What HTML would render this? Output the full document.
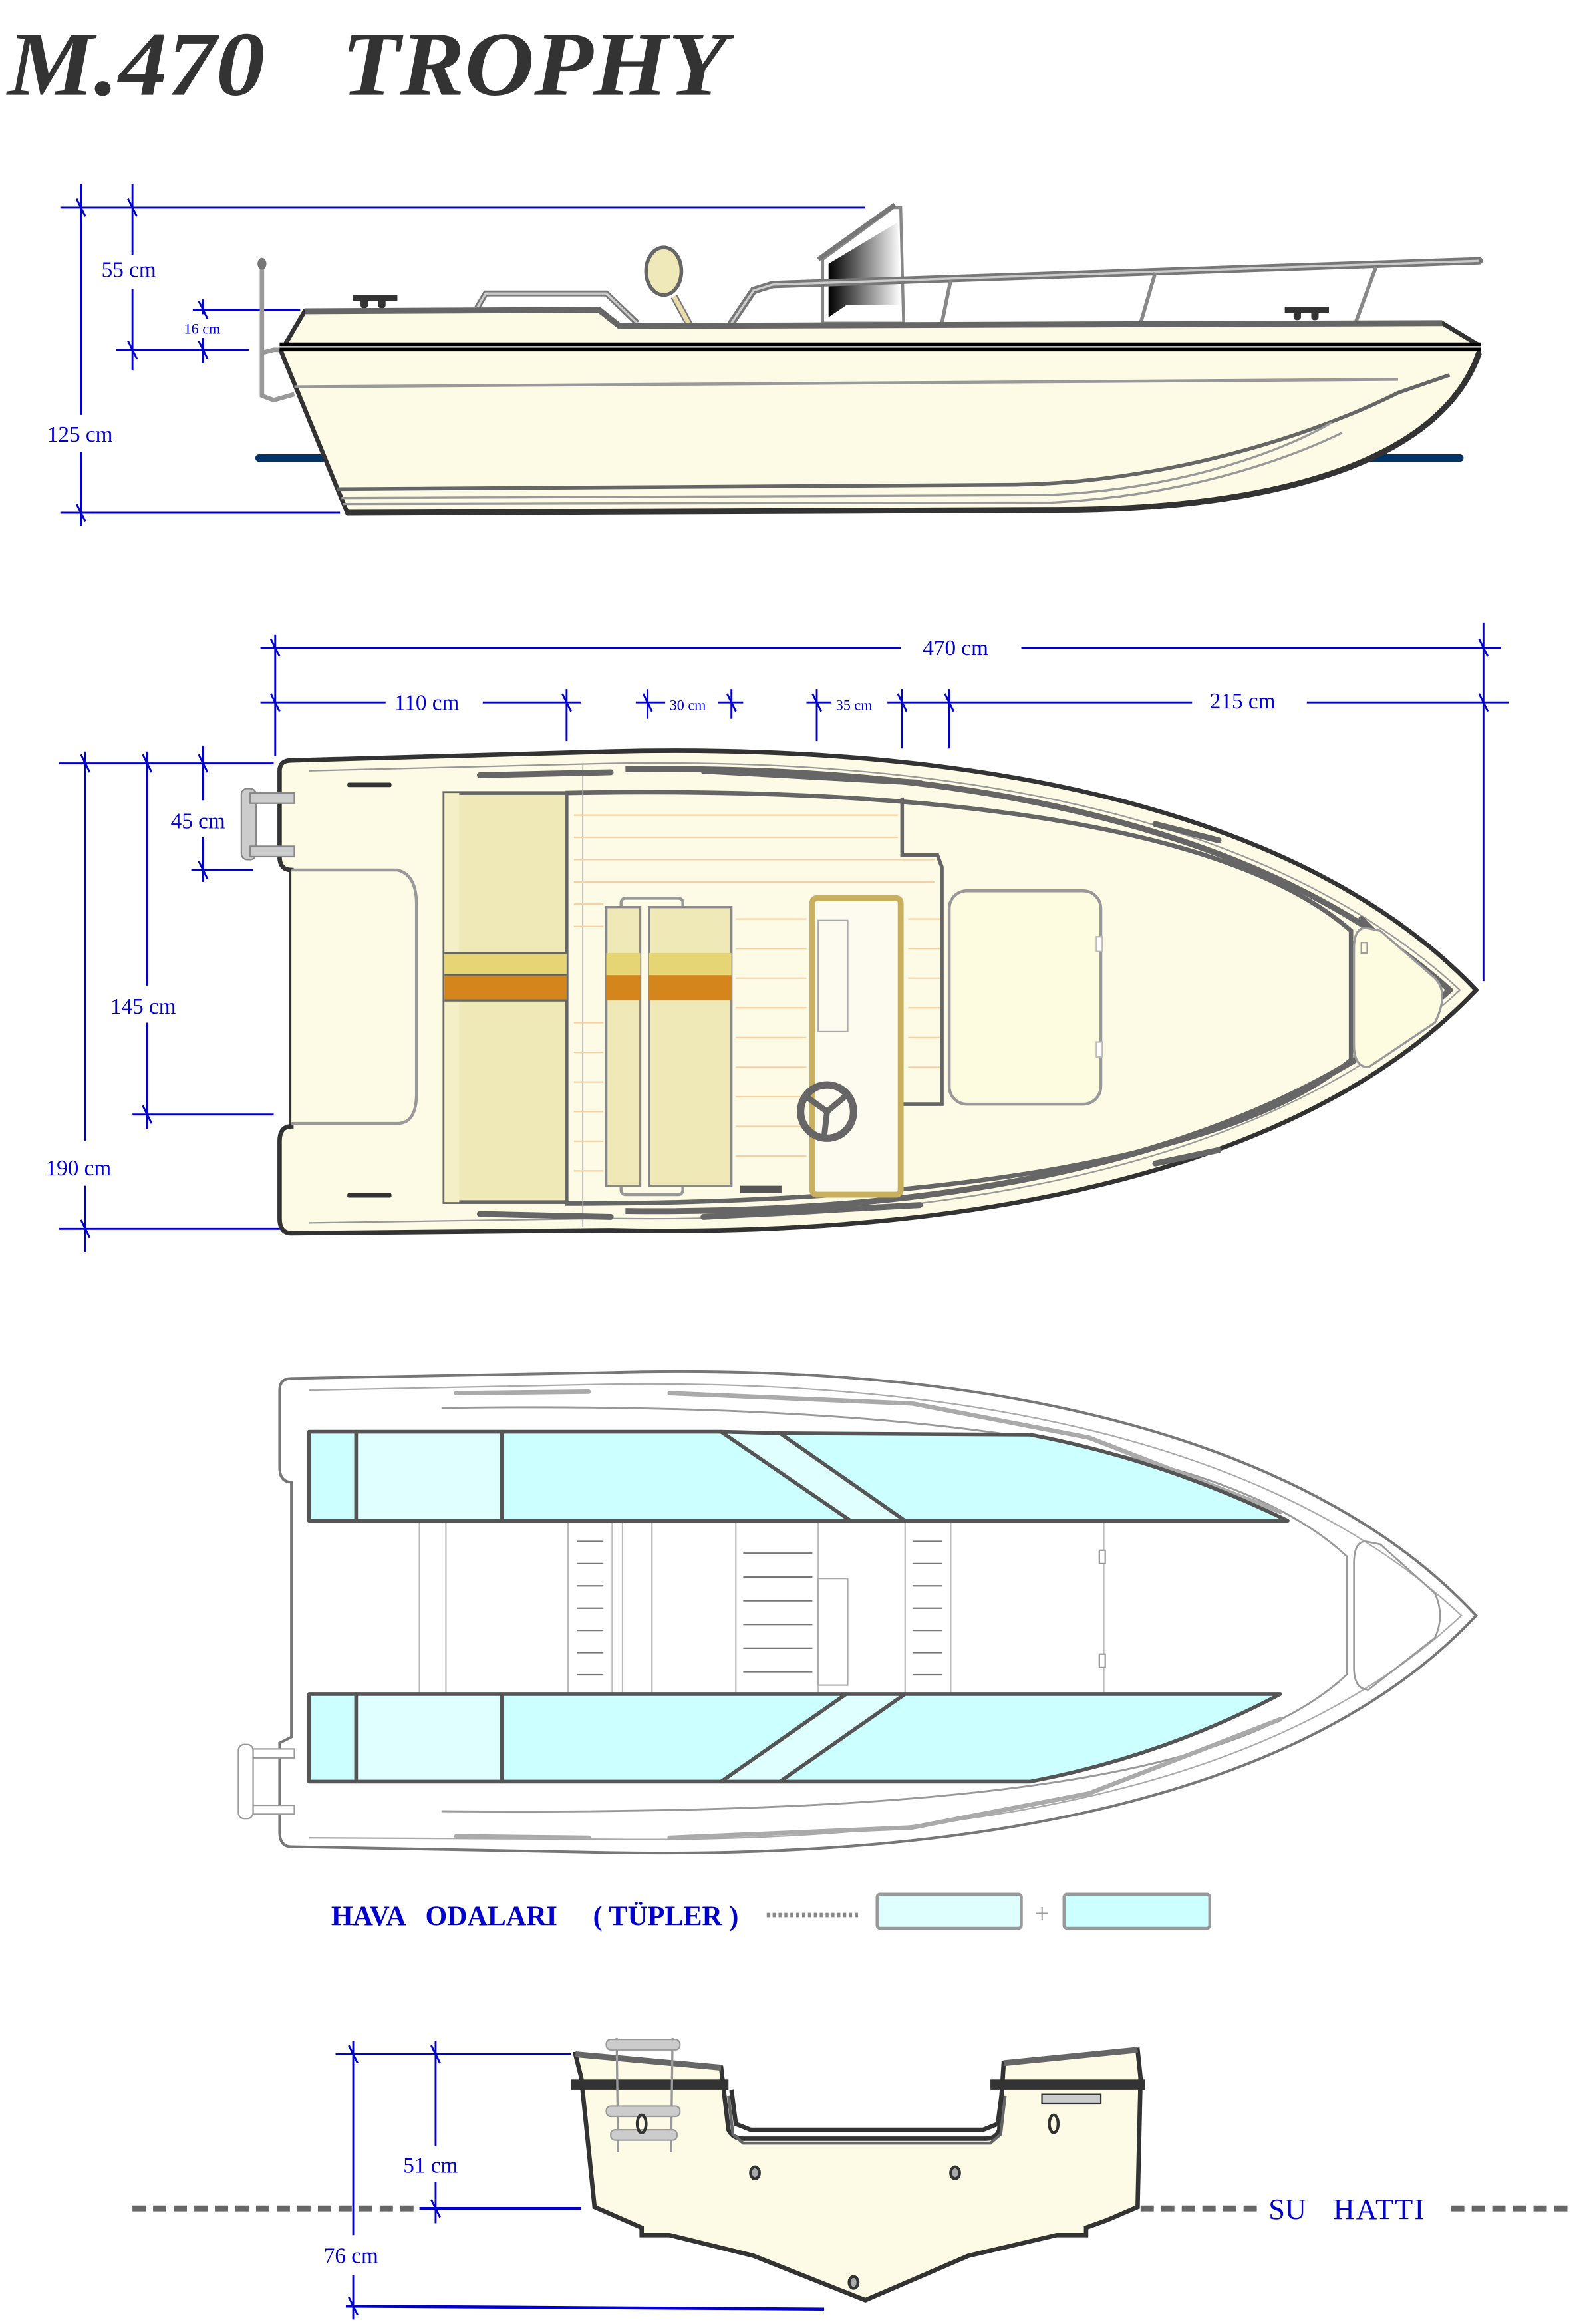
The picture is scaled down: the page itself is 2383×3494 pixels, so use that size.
<!DOCTYPE html>
<html><head><meta charset="utf-8"><style>html,body{margin:0;padding:0;background:#fff}svg{display:block}</style></head>
<body>
<svg xmlns="http://www.w3.org/2000/svg" width="2383" height="3494" viewBox="0 0 1077 1568" preserveAspectRatio="none">
<defs>
<linearGradient id="win" x1="0" x2="1"><stop offset="0" stop-color="#000"/><stop offset="1" stop-color="#fff"/></linearGradient>
</defs>
<g font-family="Liberation Serif, serif">
<!-- Title -->
<text x="5" y="64" font-size="62" font-weight="bold" font-style="italic" fill="#333" textLength="175" lengthAdjust="spacingAndGlyphs">M.470</text>
<text x="232" y="64" font-size="62" font-weight="bold" font-style="italic" fill="#333" textLength="262" lengthAdjust="spacingAndGlyphs">TROPHY</text>

<!-- ===== SIDE VIEW ===== -->
<g stroke="#0000cc" stroke-width="1.3" fill="none">
<line x1="41" y1="140" x2="588" y2="140"/>
<line x1="55" y1="124" x2="55" y2="280"/><line x1="55" y1="305" x2="55" y2="355"/>
<line x1="90" y1="124" x2="90" y2="172"/><line x1="90" y1="195" x2="90" y2="250"/>
<line x1="131" y1="209" x2="204" y2="209"/>
<line x1="79" y1="236" x2="169" y2="236"/>
<line x1="138" y1="202" x2="138" y2="212"/><line x1="138" y1="228" x2="138" y2="245"/>
<line x1="41" y1="346" x2="231" y2="346"/>
<line x1="52" y1="134" x2="58" y2="146"/><line x1="87" y1="134" x2="93" y2="146"/>
<line x1="87" y1="230" x2="93" y2="242"/><line x1="135" y1="203" x2="141" y2="215"/><line x1="135" y1="230" x2="141" y2="242"/>
<line x1="52" y1="340" x2="58" y2="352"/>
</g>
<g fill="#0000cc" font-size="15">
<text x="69" y="187">55 cm</text>
<text x="32" y="298">125 cm</text>
<text x="125" y="225" font-size="10">16 cm</text>
</g>
<line x1="176" y1="309" x2="992" y2="309" stroke="#003366" stroke-width="5" stroke-linecap="round"/>
<!-- outboard pole -->
<line x1="178" y1="178" x2="178" y2="268" stroke="#999" stroke-width="3"/>
<path d="M178 267 L186 270 L200 266" stroke="#999" stroke-width="3" fill="none"/>
<path d="M178 238 L186 236 L195 236" stroke="#999" stroke-width="3" fill="none"/>
<ellipse cx="178" cy="178" rx="3" ry="4" fill="#777"/>
<!-- stern handle -->
<path d="M324 208 L330 198 L412 198 L433 218" stroke="#777" stroke-width="4" fill="none"/>
<path d="M324 208 L330 198 L412 198 L433 218" stroke="#ccc" stroke-width="1.5" fill="none"/>
<!-- seat back -->
<line x1="458" y1="200" x2="470" y2="222" stroke="#777" stroke-width="5"/>
<line x1="458" y1="200" x2="470" y2="222" stroke="#e8dcaa" stroke-width="3"/>
<ellipse cx="451" cy="183" rx="12" ry="16" fill="#efe8b9" stroke="#666" stroke-width="2.5"/>
<!-- windshield -->
<path d="M559 218 L559 175 L607 140 L612 140 L614 218 Z" fill="#fff" stroke="#888" stroke-width="2"/>
<path d="M563 214 L563 178 L610 150 L612 206 L575 206 L563 214Z" fill="url(#win)"/>
<line x1="556" y1="175" x2="608" y2="138" stroke="#777" stroke-width="3"/>
<!-- rail -->
<path d="M497 218 L512 196 L525 192 L1005 176" stroke="#777" stroke-width="5" fill="none" stroke-linecap="round"/>
<path d="M497 218 L512 196 L525 192 L1005 176" stroke="#ccc" stroke-width="1.5" fill="none"/>
<g stroke="#888" stroke-width="2.5"><line x1="646" y1="189" x2="640" y2="218"/><line x1="785" y1="184" x2="775" y2="218"/><line x1="935" y1="180" x2="921" y2="218"/></g>
<!-- cleats -->
<g fill="#333"><rect x="240" y="199" width="30" height="4"/><rect x="245" y="201" width="5" height="7" rx="2"/><rect x="257" y="201" width="5" height="7" rx="2"/>
<rect x="873" y="207" width="30" height="4"/><rect x="879" y="209" width="5" height="7" rx="2"/><rect x="891" y="209" width="5" height="7" rx="2"/></g>
<!-- hull -->
<path d="M191 237 L207 210 L407 209 L421 220 L980 218 L1005 233 L1005 238 C980 310 870 344 718 344 L236 346 Z" fill="#fdfbe6" stroke="#333" stroke-width="3"/>
<path d="M207 210 L407 209 L421 220 L980 218" stroke="#666" stroke-width="4" fill="none"/>
<rect x="190" y="231" width="816" height="6" fill="#000"/>
<line x1="190" y1="234" x2="1006" y2="234" stroke="#fff" stroke-width="1"/>
<line x1="200" y1="261" x2="950" y2="256" stroke="#999" stroke-width="2"/>
<path d="M229 330 L690 327 C800 325 900 290 950 265 L985 253" stroke="#666" stroke-width="2.5" fill="none"/>
<path d="M232 336 L710 334 C810 330 880 300 905 285" stroke="#999" stroke-width="1.5" fill="none"/>
<path d="M233 340 L715 339 C815 334 885 305 912 292" stroke="#999" stroke-width="1.5" fill="none"/>
<path d="M236 346 L718 344 C870 344 980 310 1005 238" stroke="#333" stroke-width="4" fill="none"/>

<!-- ===== TOP VIEW ===== -->
<g stroke="#0000cc" stroke-width="1.3" fill="none">
<line x1="177" y1="437" x2="612" y2="437"/><line x1="694" y1="437" x2="1020" y2="437"/>
<line x1="177" y1="474" x2="262" y2="474"/><line x1="328" y1="474" x2="395" y2="474"/>
<line x1="432" y1="474" x2="452" y2="474"/><line x1="488" y1="474" x2="505" y2="474"/>
<line x1="548" y1="474" x2="565" y2="474"/><line x1="603" y1="474" x2="810" y2="474"/>
<line x1="888" y1="474" x2="1025" y2="474"/>
<line x1="187" y1="428" x2="187" y2="510"/><line x1="1008" y1="420" x2="1008" y2="662"/>
<line x1="385" y1="465" x2="385" y2="500"/><line x1="440" y1="465" x2="440" y2="485"/><line x1="497" y1="465" x2="497" y2="485"/>
<line x1="555" y1="465" x2="555" y2="500"/><line x1="613" y1="465" x2="613" y2="505"/><line x1="645" y1="465" x2="645" y2="505"/>
<line x1="40" y1="515" x2="186" y2="515"/><line x1="130" y1="587" x2="172" y2="587"/>
<line x1="90" y1="752" x2="186" y2="752"/><line x1="40" y1="829" x2="193" y2="829"/>
<line x1="58" y1="507" x2="58" y2="770"/><line x1="58" y1="800" x2="58" y2="845"/>
<line x1="100" y1="507" x2="100" y2="665"/><line x1="100" y1="690" x2="100" y2="762"/>
<line x1="138" y1="503" x2="138" y2="540"/><line x1="138" y1="565" x2="138" y2="595"/>
<line x1="184" y1="431" x2="190" y2="443"/><line x1="1005" y1="431" x2="1011" y2="443"/><line x1="1005" y1="468" x2="1011" y2="480"/>
<line x1="184" y1="468" x2="190" y2="480"/><line x1="382" y1="468" x2="388" y2="480"/><line x1="437" y1="468" x2="443" y2="480"/><line x1="494" y1="468" x2="500" y2="480"/>
<line x1="552" y1="468" x2="558" y2="480"/><line x1="610" y1="468" x2="616" y2="480"/><line x1="642" y1="468" x2="648" y2="480"/>
<line x1="55" y1="509" x2="61" y2="521"/><line x1="97" y1="509" x2="103" y2="521"/><line x1="135" y1="509" x2="141" y2="521"/>
<line x1="135" y1="581" x2="141" y2="593"/><line x1="97" y1="746" x2="103" y2="758"/><line x1="55" y1="823" x2="61" y2="835"/>
</g>
<g fill="#0000cc" font-size="15">
<text x="627" y="442">470 cm</text>
<text x="268" y="479">110 cm</text>
<text x="455" y="479" font-size="10">30 cm</text>
<text x="568" y="479" font-size="10">35 cm</text>
<text x="822" y="478">215 cm</text>
<text x="116" y="559">45 cm</text>
<text x="75" y="684">145 cm</text>
<text x="31" y="793">190 cm</text>
</g>
<!-- hull outline -->
<path d="M198 513 L414 507 C700 500 900 560 1003 668 C900 776 700 836 414 830 L198 832 Q190 832 190 822 L190 770 Q190 760 198 760 L198 587 Q190 587 190 578 L190 520 Q190 513 198 513Z" fill="#fdfbe6" stroke="#333" stroke-width="3"/>
<path d="M210 520 L414 515 C690 510 880 565 992 668 C880 771 690 826 414 822 L210 825" fill="none" stroke="#999" stroke-width="1"/>
<path d="M425 519 C690 515 875 570 985 668 C875 766 690 820 425 817" fill="none" stroke="#666" stroke-width="4"/>
<path d="M384 535 C650 530 840 560 918 628 L918 715 C840 780 650 812 384 812" fill="none" stroke="#666" stroke-width="3"/>
<line x1="396" y1="515" x2="396" y2="828" stroke="#aaa" stroke-width="0.8"/>
<!-- rails -->
<g stroke="#666" stroke-width="4" stroke-linecap="round" fill="none">
<line x1="326" y1="523" x2="415" y2="521"/><line x1="326" y1="819" x2="415" y2="821"/>
<line x1="478" y1="520" x2="625" y2="528"/><line x1="478" y1="821" x2="625" y2="813"/>
<line x1="785" y1="556" x2="828" y2="567"/><line x1="785" y1="785" x2="828" y2="776"/>
<line x1="925" y1="620" x2="945" y2="640"/><line x1="925" y1="714" x2="945" y2="696"/>
</g>
<g fill="#333"><rect x="236" y="528" width="30" height="3" rx="1"/><rect x="236" y="805" width="30" height="3" rx="1"/></g>
<!-- transom platform / ladder -->
<rect x="164" y="532" width="10" height="48" rx="4" fill="#ccc" stroke="#888"/>
<rect x="170" y="535" width="30" height="7" fill="#ccc" stroke="#888"/><rect x="170" y="571" width="30" height="7" fill="#ccc" stroke="#888"/>
<path d="M198 587 L270 587 Q283 590 283 610 L283 738 Q283 758 270 758 L198 758" fill="#fdfbe6" stroke="#999" stroke-width="2"/>
<!-- seat box -->
<rect x="302" y="535" width="83" height="276" fill="#efe9b8" stroke="#666" stroke-width="2.5"/>
<rect x="302" y="535" width="10" height="276" fill="#f4efc6"/>
<rect x="302" y="643" width="83" height="15" fill="#e6d574"/>
<rect x="302" y="658" width="83" height="17" fill="#d4861c"/>
<g stroke="#666" stroke-width="1.5"><line x1="302" y1="643" x2="385" y2="643"/><line x1="302" y1="658" x2="385" y2="658"/><line x1="302" y1="675" x2="385" y2="675"/></g>
<!-- deck planks -->
<g stroke="#f7cfa0" stroke-width="1">
<line x1="390" y1="550" x2="610" y2="550"/><line x1="390" y1="565" x2="610" y2="565"/><line x1="390" y1="580" x2="635" y2="580"/>
<line x1="390" y1="595" x2="635" y2="595"/><line x1="390" y1="610" x2="410" y2="610"/><line x1="390" y1="625" x2="410" y2="625"/>
<line x1="390" y1="690" x2="410" y2="690"/><line x1="390" y1="710" x2="410" y2="710"/><line x1="390" y1="730" x2="410" y2="730"/>
<line x1="390" y1="750" x2="410" y2="750"/><line x1="390" y1="770" x2="410" y2="770"/><line x1="390" y1="790" x2="410" y2="790"/>
<line x1="500" y1="620" x2="548" y2="620"/><line x1="500" y1="640" x2="548" y2="640"/><line x1="500" y1="660" x2="548" y2="660"/>
<line x1="500" y1="680" x2="548" y2="680"/><line x1="500" y1="700" x2="548" y2="700"/><line x1="500" y1="720" x2="548" y2="720"/>
<line x1="500" y1="740" x2="548" y2="740"/><line x1="500" y1="760" x2="548" y2="760"/><line x1="500" y1="780" x2="548" y2="780"/>
<line x1="617" y1="620" x2="640" y2="620"/><line x1="617" y1="640" x2="640" y2="640"/><line x1="617" y1="660" x2="640" y2="660"/>
<line x1="617" y1="680" x2="640" y2="680"/><line x1="617" y1="700" x2="640" y2="700"/><line x1="617" y1="720" x2="640" y2="720"/>
</g>
<path d="M613 538 L613 577 L637 577 L640 585 L640 745 L613 745" fill="none" stroke="#666" stroke-width="2.5"/>
<!-- 2nd seat -->
<rect x="422" y="606" width="42" height="200" rx="3" fill="none" stroke="#999" stroke-width="2"/>
<rect x="412" y="612" width="23" height="188" fill="#efe9b8" stroke="#888" stroke-width="1.5"/>
<rect x="441" y="612" width="56" height="188" fill="#efe9b8" stroke="#888" stroke-width="1.5"/>
<rect x="412" y="643" width="23" height="15" fill="#e6d574"/><rect x="441" y="643" width="56" height="15" fill="#e6d574"/>
<rect x="412" y="658" width="23" height="17" fill="#d4861c"/><rect x="441" y="658" width="56" height="17" fill="#d4861c"/>
<!-- console -->
<rect x="552" y="606" width="60" height="200" rx="3" fill="#fdfbf0" stroke="#c8b060" stroke-width="4"/>
<rect x="556" y="621" width="20" height="75" fill="none" stroke="#aaa" stroke-width="1"/>
<circle cx="562" cy="750" r="18" fill="none" stroke="#666" stroke-width="5"/>
<path d="M562 750 L548 740 M562 750 L574 740 M562 750 L560 767" stroke="#666" stroke-width="4"/>
<rect x="503" y="800" width="28" height="5" fill="#555"/>
<!-- forward hatch -->
<rect x="645" y="601" width="103" height="144" rx="12" fill="#fdfbe0" stroke="#999" stroke-width="2"/>
<rect x="745" y="632" width="4" height="10" fill="#fff" stroke="#bbb"/><rect x="745" y="703" width="4" height="10" fill="#fff" stroke="#bbb"/>
<!-- bow locker -->
<path d="M928 626 Q920 626 920 640 L920 705 Q920 720 930 720 L975 690 Q985 670 975 660 L938 628Z" fill="#fdfbe0" stroke="#999" stroke-width="1.5"/>
<rect x="925" y="636" width="4" height="7" fill="none" stroke="#999"/>

<!-- ===== TUBES VIEW ===== -->
<path d="M198 930 L414 926 C700 918 900 980 1003 1090 C900 1200 700 1255 414 1250 L198 1246 Q190 1246 190 1236 L190 1176 L198 1172 L198 1000 Q190 1000 190 990 L190 938 Q190 930 198 930Z" fill="#fff" stroke="#777" stroke-width="1.8"/>
<path d="M210 938 L414 934 C690 930 880 985 993 1090 C880 1195 690 1244 414 1241 L210 1240" fill="none" stroke="#aaa" stroke-width="1"/>
<path d="M300 950 C650 945 840 980 915 1050 L915 1130 C840 1200 650 1225 300 1222" fill="none" stroke="#999" stroke-width="1.3"/>
<g stroke="#aaa" stroke-width="3" stroke-linecap="round" fill="none">
<line x1="310" y1="940" x2="400" y2="939"/><line x1="310" y1="1239" x2="400" y2="1240"/>
<path d="M455 940 L620 947 L740 970 L870 1020"/><path d="M455 1240 L620 1233 L740 1210 L870 1160"/>
</g>
<g stroke="#bbb" stroke-width="1" fill="none">
<line x1="285" y1="1026" x2="285" y2="1143"/><line x1="303" y1="1026" x2="303" y2="1143"/>
<rect x="386" y="1026" width="30" height="117"/><rect x="423" y="1026" width="20" height="117"/>
<rect x="500" y="1026" width="56" height="117"/><rect x="615" y="1026" width="31" height="117"/>
<line x1="750" y1="1026" x2="750" y2="1143"/>
</g>
<g stroke="#777" stroke-width="1">
<line x1="392" y1="1040" x2="410" y2="1040"/><line x1="392" y1="1055" x2="410" y2="1055"/><line x1="392" y1="1070" x2="410" y2="1070"/><line x1="392" y1="1085" x2="410" y2="1085"/><line x1="392" y1="1100" x2="410" y2="1100"/><line x1="392" y1="1115" x2="410" y2="1115"/><line x1="392" y1="1130" x2="410" y2="1130"/>
<line x1="505" y1="1048" x2="552" y2="1048"/><line x1="505" y1="1064" x2="552" y2="1064"/><line x1="505" y1="1080" x2="552" y2="1080"/><line x1="505" y1="1096" x2="552" y2="1096"/><line x1="505" y1="1112" x2="552" y2="1112"/><line x1="505" y1="1128" x2="552" y2="1128"/>
<line x1="620" y1="1040" x2="640" y2="1040"/><line x1="620" y1="1055" x2="640" y2="1055"/><line x1="620" y1="1070" x2="640" y2="1070"/><line x1="620" y1="1085" x2="640" y2="1085"/><line x1="620" y1="1100" x2="640" y2="1100"/><line x1="620" y1="1115" x2="640" y2="1115"/><line x1="620" y1="1130" x2="640" y2="1130"/>
</g>
<rect x="556" y="1065" width="20" height="72" fill="none" stroke="#aaa"/>
<rect x="747" y="1046" width="4" height="9" fill="#fff" stroke="#999"/><rect x="747" y="1116" width="4" height="9" fill="#fff" stroke="#999"/>
<path d="M928 1040 Q920 1040 920 1055 L920 1125 Q920 1140 930 1140 L975 1105 Q982 1090 975 1075 L938 1042Z" fill="none" stroke="#999" stroke-width="1.2"/>
<rect x="162" y="1177" width="10" height="50" rx="4" fill="#fff" stroke="#999"/>
<rect x="172" y="1180" width="28" height="6" fill="#fff" stroke="#999"/><rect x="172" y="1218" width="28" height="6" fill="#fff" stroke="#999"/>
<g stroke="#555" stroke-width="2.5" stroke-linejoin="round">
<rect x="210" y="966" width="32" height="60" fill="#ccffff"/>
<rect x="242" y="966" width="99" height="60" fill="#e0ffff"/>
<path d="M341 966 L490 966 L578 1026 L341 1026Z" fill="#ccffff"/>
<path d="M490 966 L530 967 L615 1026 L578 1026Z" fill="#e0ffff"/>
<path d="M530 967 L700 968 Q790 985 875 1026 L615 1026Z" fill="#ccffff"/>
<rect x="210" y="1143" width="32" height="59" fill="#ccffff"/>
<rect x="242" y="1143" width="99" height="59" fill="#e0ffff"/>
<path d="M341 1143 L575 1143 L490 1202 L341 1202Z" fill="#ccffff"/>
<path d="M575 1143 L615 1143 L530 1202 L490 1202Z" fill="#e0ffff"/>
<path d="M615 1143 L870 1143 Q790 1185 700 1202 L530 1202Z" fill="#ccffff"/>
</g>
<g font-size="19" font-weight="bold" fill="#0000cc">
<text x="225" y="1299">HAVA</text><text x="289" y="1299">ODALARI</text><text x="403" y="1299">( TÜPLER )</text>
</g>
<line x1="521" y1="1292" x2="585" y2="1292" stroke="#888" stroke-width="3" stroke-dasharray="2 2"/>
<rect x="596" y="1278" width="98" height="23" rx="2" fill="#dfffff" stroke="#999" stroke-width="2"/>
<text x="703" y="1297" font-size="18" fill="#999">+</text>
<rect x="723" y="1278" width="99" height="23" rx="2" fill="#ccffff" stroke="#999" stroke-width="2"/>

<!-- ===== TRANSOM SECTION ===== -->
<g stroke="#0000cc" stroke-width="1.3" fill="none">
<line x1="228" y1="1386" x2="388" y2="1386"/>
<line x1="285" y1="1490" x2="395" y2="1490" stroke-width="2"/>
<line x1="235" y1="1556" x2="560" y2="1558" stroke-width="2"/>
<line x1="240" y1="1377" x2="240" y2="1508"/><line x1="240" y1="1535" x2="240" y2="1565"/>
<line x1="296" y1="1377" x2="296" y2="1448"/><line x1="296" y1="1472" x2="296" y2="1500"/>
<line x1="237" y1="1380" x2="243" y2="1392"/><line x1="293" y1="1380" x2="299" y2="1392"/>
<line x1="293" y1="1484" x2="299" y2="1496"/><line x1="237" y1="1550" x2="243" y2="1562"/>
</g>
<g fill="#0000cc" font-size="15"><text x="274" y="1466">51 cm</text><text x="220" y="1527">76 cm</text></g>
<g stroke="#666" stroke-width="4" stroke-dasharray="9 5">
<line x1="90" y1="1490" x2="285" y2="1490"/><line x1="775" y1="1490" x2="855" y2="1490"/><line x1="986" y1="1490" x2="1070" y2="1490"/>
</g>
<g font-size="20" fill="#0000cc"><text x="862" y="1497">SU</text><text x="906" y="1497" letter-spacing="1">HATTI</text></g>
<path d="M391 1386 L490 1395 L495 1437 Q498 1443 505 1443 L670 1443 Q677 1443 679 1437 L682 1392 L773 1383 L775 1402 L773 1489 L752 1498 L738 1503 L738 1508 L718 1508 L658 1522 L588 1552 L512 1522 L455 1508 L436 1508 L436 1503 L404 1489 L395 1402Z" fill="#fdfbe6" stroke="#333" stroke-width="3"/>
<path d="M391 1386 L490 1395 M682 1392 L773 1383" stroke="#666" stroke-width="4"/>
<rect x="388" y="1403" width="107" height="7" fill="#333"/><rect x="673" y="1403" width="105" height="7" fill="#333"/>
<path d="M497 1410 L500 1433 L510 1437 L668 1437 L678 1433 L681 1410" fill="none" stroke="#333" stroke-width="3"/>
<path d="M495 1414 L498 1440 L505 1446 L673 1446 L680 1440 L683 1414" fill="none" stroke="#666" stroke-width="2"/>
<rect x="708" y="1413" width="40" height="6" fill="#ccc" stroke="#333"/>
<g stroke="#999" stroke-width="1.5" fill="none"><line x1="419" y1="1375" x2="420" y2="1452"/><line x1="457" y1="1375" x2="456" y2="1452"/></g>
<g fill="#ccc" stroke="#999"><rect x="412" y="1376" width="50" height="7" rx="3"/><rect x="412" y="1421" width="50" height="7" rx="3"/><rect x="415" y="1437" width="45" height="7" rx="3"/></g>
<g fill="none" stroke="#333" stroke-width="2"><ellipse cx="436" cy="1433" rx="3" ry="6"/><ellipse cx="716" cy="1433" rx="3" ry="6"/></g>
<g fill="#aaa" stroke="#333" stroke-width="2"><ellipse cx="513" cy="1466" rx="3" ry="4"/><ellipse cx="649" cy="1466" rx="3" ry="4"/><ellipse cx="580" cy="1540" rx="3" ry="4"/></g>
</g>
</svg>
</body></html>
